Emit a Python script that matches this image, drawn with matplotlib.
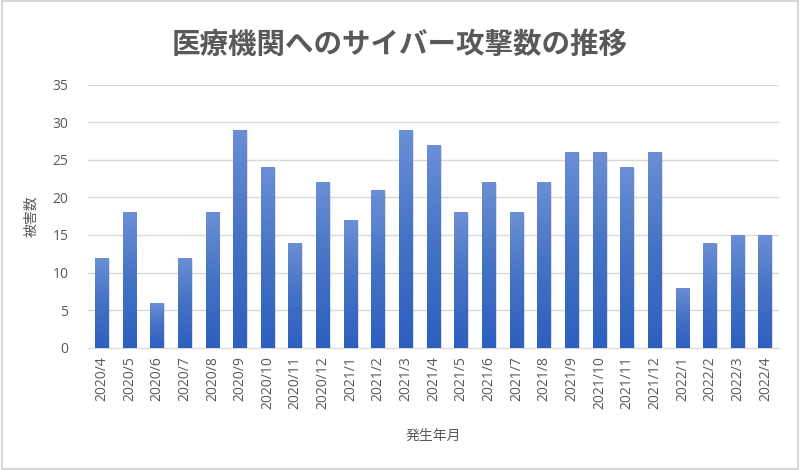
import numpy as np
import matplotlib
matplotlib.use('Agg')
import matplotlib.pyplot as plt
from matplotlib.colors import LinearSegmentedColormap
from matplotlib.patches import Rectangle

plt.rcParams['font.family'] = ['Open Sans', 'Noto Sans CJK JP', 'DejaVu Sans']

months = ['2020/4', '2020/5', '2020/6', '2020/7', '2020/8', '2020/9', '2020/10',
          '2020/11', '2020/12', '2021/1', '2021/2', '2021/3', '2021/4', '2021/5',
          '2021/6', '2021/7', '2021/8', '2021/9', '2021/10', '2021/11', '2021/12',
          '2022/1', '2022/2', '2022/3', '2022/4']
attacks = [12, 18, 6, 12, 18, 29, 24, 14, 22, 17, 21, 29, 27, 18, 22, 18, 22,
           26, 26, 24, 26, 8, 14, 15, 15]

text_color = '#595959'
grid_color = '#d9d9d9'
jp = ['Noto Sans CJK JP', 'DejaVu Sans']

fig = plt.figure(figsize=(8, 4.7), dpi=100)
fig.patches.append(Rectangle((0.002, 0.002), 0.996, 0.996, transform=fig.transFigure,
                             fill=False, edgecolor='#d0d0d0', linewidth=1.2))
ax = fig.add_axes([0.11, 0.26, 0.864, 0.56])

x = np.arange(len(months))
bars = ax.bar(x, attacks, width=0.5, color='none', edgecolor='none', zorder=3)

cmap = LinearSegmentedColormap.from_list('bar', ['#2d5fbf', '#4472c4', '#6b8fd5'])
grad = np.linspace(0, 1, 256).reshape(-1, 1)
for b in bars:
    bx, by = b.get_x(), b.get_y()
    w, h = b.get_width(), b.get_height()
    # soft shadow
    ax.add_patch(Rectangle((bx + 0.04, by), w, h - 0.15, facecolor='#000000',
                           alpha=0.12, edgecolor='none', zorder=2))
    im = ax.imshow(grad, extent=[bx, bx + w, by, by + h], origin='lower',
                   cmap=cmap, aspect='auto', zorder=3)
    im.set_clip_path(b)

ax.set_xlim(-0.5, len(months) - 0.5)
ax.set_ylim(0, 35)
ax.set_yticks(range(0, 36, 5))
ax.set_xticks(x)
ax.set_xticklabels(months, rotation=90, va='top', ha='center')
ax.yaxis.grid(True, color=grid_color, linewidth=1, zorder=0)
ax.set_axisbelow(True)
for s in ['top', 'right', 'left']:
    ax.spines[s].set_visible(False)
ax.spines['bottom'].set_color(grid_color)
ax.tick_params(axis='both', length=0, colors=text_color, labelsize=10)
ax.tick_params(axis='x', pad=6)
ax.tick_params(axis='y', pad=14)

ax.set_ylabel('被害数', color=text_color, fontsize=10, labelpad=10, family=jp)
ax.set_xlabel('発生年月', color=text_color, fontsize=10, labelpad=14, family=jp)
fig.suptitle('医療機関へのサイバー攻撃数の推移', x=0.5, y=0.935, fontsize=20.5,
             fontweight='bold', color=text_color, family=jp)

fig.savefig('out.png', dpi=100)
